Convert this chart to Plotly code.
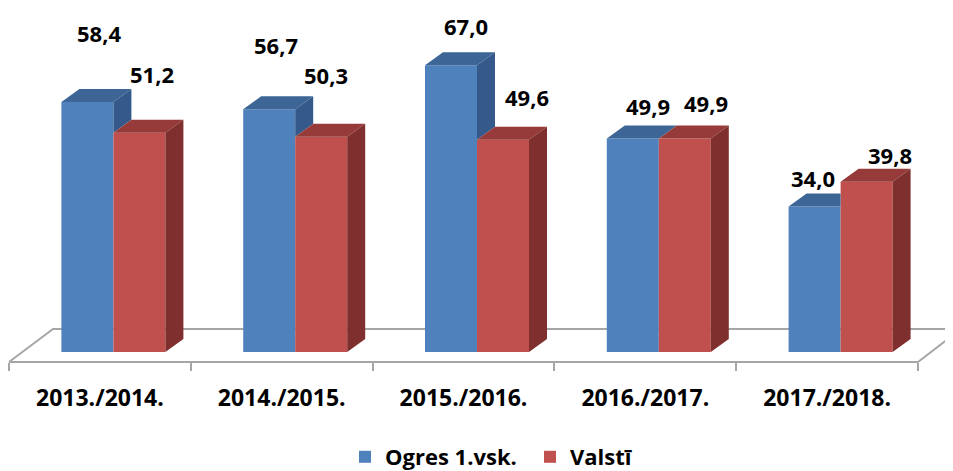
import plotly.graph_objects as go

# ---- data ----
categories = ["2013./2014.", "2014./2015.", "2015./2016.", "2016./2017.", "2017./2018."]
ogres = [58.4, 56.7, 67.0, 49.9, 34.0]
valsti = [51.2, 50.3, 49.6, 49.9, 39.8]
series_names = ["Ogres 1.vsk.", "Valstī"]

# ---- styling / geometry constants ----
OFF = 8                          # page body margin of the html output
W, H = 953 - 2 * OFF, 471 - OFF
PLOT_L, PLOT_R, PLOT_T, PLOT_B = 9, 918, 8, 380     # plot area in page pixels
ML, MT = PLOT_L - OFF, PLOT_T - OFF
MR, MB = W - (PLOT_R - OFF), H - (PLOT_B - OFF)
plot_w = PLOT_R - PLOT_L
plot_h = PLOT_B - PLOT_T
px_per_unit = 4.28               # vertical pixels per value unit
zero_px = 352                    # page row of value 0 (bar front bottom)
y_min = -(PLOT_B - zero_px) / px_per_unit
y_max = (zero_px - PLOT_T) / px_per_unit
cat_px = plot_w / 5.0
bar_w = 52 / cat_px              # width of one bar in category units
shift = 13.5 / cat_px            # 3-D depth shift of the bar pair
dx = 18 / cat_px                 # depth offset (x) of tops/sides
dv = 13 / px_per_unit            # depth offset (y) in value units

FONT = dict(family="Open Sans", size=22, color="black", weight="bold")
CAT_FONT = dict(family="Open Sans", size=23, color="black", weight="bold")
blue = dict(front="#4F81BD", top="#3D6697", side="#34598A")
red = dict(front="#C0504D", top="#963B39", side="#7F302E")
GRID = "#A6A6A6"

# label offsets in pixels (Excel 3-D label placement)
lab_dx_blue = [12, 7, 15, 15, -2]
lab_dy_blue = [69, 64, 39, 32, 28]
lab_dx_red = [13, 5, 24, 21, 23]
lab_dy_red = [59, 62, 43, 35, 27]

fig = go.Figure()

xs = [i + shift for i in range(len(categories))]

fig.add_trace(go.Bar(x=xs, y=ogres, width=bar_w, offset=-bar_w, name=series_names[0],
                     marker=dict(color=blue["front"], line=dict(width=0))))
fig.add_trace(go.Bar(x=xs, y=valsti, width=bar_w, offset=0, name=series_names[1],
                     marker=dict(color=red["front"], line=dict(width=0))))

def poly_trace(px_, py_, color):
    return go.Scatter(x=px_, y=py_, mode="lines", fill="toself", fillcolor=color,
                      line=dict(width=0, color=color), hoverinfo="skip", showlegend=False)

bt_x, bt_y, bs_x, bs_y = [], [], [], []
rt_x, rt_y, rs_x, rs_y = [], [], [], []
for i, (b, r) in enumerate(zip(ogres, valsti)):
    xl = xs[i] - bar_w
    xm = xs[i]
    xr = xs[i] + bar_w
    # blue top (clipped where hidden behind the red front)
    if r >= b + dv:
        bt_x += [xl, xl + dx, xm, xm, xl, None]
    else:
        bt_x += [xl, xl + dx, xm + dx, xm, xl, None]
    bt_y += [b, b + dv, b + dv, b, b, None]
    # blue side, visible above the red top
    if b > r:
        bs_x += [xm, xm, xm + dx, xm + dx, xm, None]
        bs_y += [r, b, b + dv, r + dv, r, None]
    # red top & side
    rt_x += [xm, xm + dx, xr + dx, xr, xm, None]
    rt_y += [r, r + dv, r + dv, r, r, None]
    rs_x += [xr, xr, xr + dx, xr + dx, xr, None]
    rs_y += [0, r, r + dv, dv, 0, None]

fig.add_trace(poly_trace(bt_x, bt_y, blue["top"]))
fig.add_trace(poly_trace(bs_x, bs_y, blue["side"]))
fig.add_trace(poly_trace(rt_x, rt_y, red["top"]))
fig.add_trace(poly_trace(rs_x, rs_y, red["side"]))

# invisible trace to realise the floor / tick axis
fig.add_trace(go.Scatter(x=[-0.5], y=[0], xaxis="x2", mode="markers",
                         marker=dict(opacity=0), hoverinfo="skip", showlegend=False))

# data labels
for i in range(len(categories)):
    fig.add_annotation(x=xs[i] - bar_w / 2, y=ogres[i], text=f"{ogres[i]:.1f}".replace(".", ","),
                       showarrow=False, xshift=lab_dx_blue[i], yshift=lab_dy_blue[i],
                       font=FONT, xanchor="center", yanchor="middle")
    fig.add_annotation(x=xs[i] + bar_w / 2, y=valsti[i], text=f"{valsti[i]:.1f}".replace(".", ","),
                       showarrow=False, xshift=lab_dx_red[i], yshift=lab_dy_red[i],
                       font=FONT, xanchor="center", yanchor="middle")

# floor (3-D) decoration in paper coordinates (inputs in page pixels)
def pxp(x):
    return (x - PLOT_L) / plot_w

def pyp(y):
    return (PLOT_B - y) / plot_h

floor_path = (f"M {pxp(9)},{pyp(362)} L {pxp(53)},{pyp(329)} L {pxp(975)},{pyp(329)} "
              f"M {pxp(918)},{pyp(362)} L {pxp(975)},{pyp(318)}")
fig.add_shape(type="path", path=floor_path, xref="paper", yref="paper",
              line=dict(color=GRID, width=2), layer="below")

fig.update_layout(
    width=W, height=H,
    margin=dict(l=ML, r=MR, t=MT, b=MB, pad=0, autoexpand=False),
    paper_bgcolor="white", plot_bgcolor="white",
    barmode="overlay",
    showlegend=True,
    legend=dict(orientation="h", x=pxp(530), xanchor="center", y=pyp(457), yanchor="middle",
                font=FONT, traceorder="normal", entrywidth=140, entrywidthmode="pixels"),
    xaxis=dict(range=[-0.5, 4.5], tickvals=list(range(len(categories))), ticktext=categories,
               showgrid=False, zeroline=False, showline=False, ticks="", tickfont=CAT_FONT,
               ticklabelstandoff=2, automargin=False, fixedrange=True),
    xaxis2=dict(range=[-0.5, 4.5], overlaying="x", anchor="free", position=pyp(362), side="bottom",
                tickvals=[i - 0.5 for i in range(len(categories) + 1)], ticks="outside",
                ticklen=8, tickwidth=2, tickcolor=GRID, showticklabels=False, automargin=False,
                showline=True, linecolor=GRID, linewidth=2, showgrid=False, zeroline=False),
    yaxis=dict(range=[y_min, y_max], visible=False, fixedrange=True, automargin=False),
)

fig.write_html("out.html")
